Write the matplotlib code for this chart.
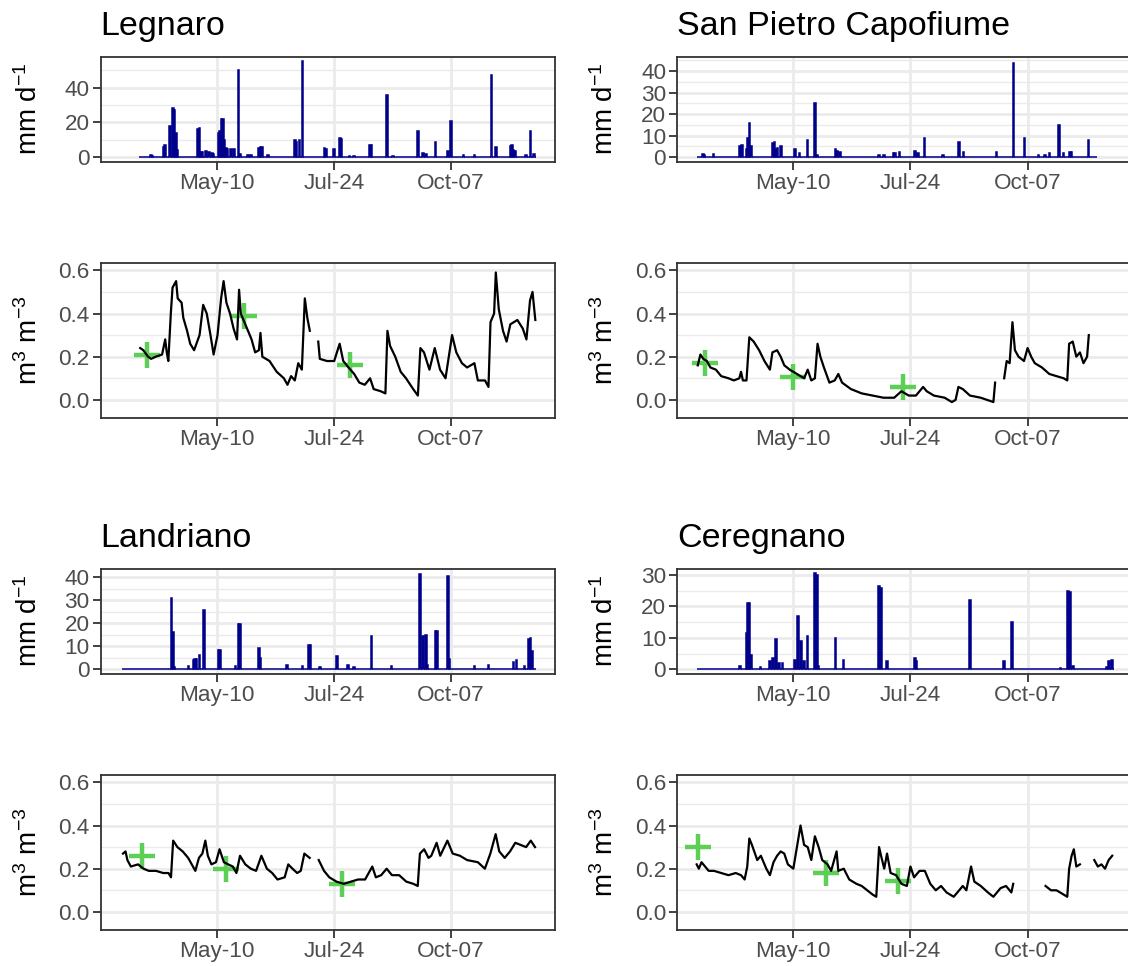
import numpy as np
import matplotlib.pyplot as plt
from matplotlib.ticker import AutoMinorLocator

plt.rcParams['font.family'] = ['Liberation Sans', 'DejaVu Sans']
plt.rcParams['mathtext.fontset'] = 'custom'
plt.rcParams['mathtext.rm'] = 'Liberation Sans'
plt.rcParams['mathtext.it'] = 'Liberation Sans:italic'
plt.rcParams['mathtext.bf'] = 'Liberation Sans:bold'

# all x values are day of year
TICK_DOY = [130, 205, 280]
TICK_LABELS = ["May-10", "Jul-24", "Oct-07"]
XLIM = (55.7, 346.6)

sites = ["Legnaro", "San Pietro Capofiume", "Landriano", "Ceregnano"]

# rain record (first and last day) and rainy days, mm d-1
rain_span = {
    "Legnaro": (81, 334),
    "San Pietro Capofiume": (69, 324),
    "Landriano": (70, 334),
    "Ceregnano": (69, 335),
}
rain_day = {
    "Legnaro": [88, 89, 96, 97, 100, 102, 103, 104, 105, 118, 119, 120, 121, 123, 125,
                127, 128, 131, 132, 133, 134, 135, 136, 137, 139, 141, 144, 145, 150, 152,
                157, 158, 159, 163, 180, 181, 183, 185, 199, 200, 205, 209, 210, 215, 218,
                228, 229, 239, 243, 259, 262, 264, 270, 278, 280, 288, 295, 306, 309, 318,
                319, 320, 321, 328, 331, 333],
    "San Pietro Capofiume": [72, 73, 79, 96, 97, 100, 101, 102, 103, 117, 118, 119, 120, 122,
                             131, 134, 139, 144, 145, 157, 158, 160, 185, 188, 194, 195, 198,
                             208, 210, 214, 226, 236, 239, 260, 271, 278, 287, 291, 294, 300,
                             303, 307, 308, 319],
    "Landriano": [101, 102, 103, 112, 115, 116, 117, 119, 122, 131, 132, 142, 144, 145, 157,
                  158, 175, 185, 189, 190, 196, 207, 214, 218, 229, 242, 260, 262, 264, 265,
                  270, 271, 278, 279, 295, 304, 320, 322, 327, 330, 331, 332],
    "Ceregnano": [96, 100, 101, 102, 103, 109, 115, 117, 119, 121, 123, 131, 133, 135, 137,
                  139, 144, 145, 146, 157, 162, 185, 186, 190, 208, 209, 243, 265, 270, 301,
                  306, 307, 309, 331, 332, 334],
}
rain_mm = {
    "Legnaro": [1, 0.8, 6, 6.8, 18, 28, 27, 14, 4, 16, 16.5, 3, 3, 3.5, 3,
                2.5, 2, 14, 15, 22, 22, 10, 5.5, 5, 5, 4.5, 50, 2, 1, 1,
                5.5, 6, 6, 1.5, 10, 9, 10, 55, 5.5, 5, 4.5, 11, 10.5, 0.5, 0.5,
                7, 7, 36, 0.5, 15, 2.5, 2, 8.5, 3.5, 21, 1.5, 1, 47, 6, 6.5,
                7, 4, 3.5, 1, 15, 2],
    "San Pietro Capofiume": [1.5, 1, 1.5, 5, 5.5, 4, 9, 16, 5, 6.5, 7, 4, 4.5, 5,
                             4, 2, 8, 25, 1, 4, 3, 2.5, 1, 1, 2, 2, 2.5,
                             3, 2, 9, 1, 7, 2.5, 2.5, 44, 9, 1, 1, 2, 15,
                             2, 2.5, 2.5, 8],
    "Landriano": [31, 16, 1, 1.5, 4, 4.5, 4.5, 6, 25.5, 8.5, 8.5, 1.5, 19.5, 19.5, 9,
                  5, 2, 1.5, 10.5, 10.5, 1, 5.5, 2, 1, 14.5, 1.5, 41.5, 14.5, 15, 2,
                  16.5, 16.5, 40.5, 4.5, 1.5, 2, 3, 4, 1.5, 13, 13.5, 8],
    "Ceregnano": [1, 11.5, 21, 21, 4.5, 0.8, 2.5, 3.5, 9.5, 2, 2, 3, 17, 9, 2.5,
                  10.5, 30.5, 30, 1, 10, 3, 26.5, 26, 2.5, 3.5, 2.5, 22, 2.5, 15, 0.5,
                  25, 24.5, 1, 0.8, 2.5, 3],
}

# soil water content, m3 m-3 (nan = gap in the record)
swc_day = {
    "Legnaro": [81, 83, 86, 88, 91, 95, 97, 98, 99, 100.6, 101.7, 104, 105, 107.5, 108.6,
                111, 113, 115.5, 119, 121.3, 123.6, 126, 128, 130.5, 132.8, 134.4, 136.2,
                138.5, 140.8, 143, 144.3, 145.4, 147.7, 150, 152.3, 154.6, 157, 158, 159.2,
                163.8, 168.4, 173, 175.3, 177.6, 180, 182.2, 184.5, 186.4, 188, 189.6, 192,
                195, 196, 200.6, 205.2, 208.7, 211, 214.4, 218, 221.3, 224.8, 228.2, 230.5,
                235, 238, 239.3, 241, 244.3, 247.8, 251.2, 255.8, 258.8, 260.4, 262.7, 266.2,
                269.6, 273, 276.5, 280.7, 283.4, 287, 290.3, 295, 297.2, 301.8, 304, 305.3,
                307.6, 308.7, 310.6, 313.3, 315.6, 318, 322.5, 326, 328.3, 330.6, 332.2, 334],
    "San Pietro Capofiume": [68.8, 70.5, 72.3, 74.6, 76.9, 80.4, 83.8, 88.5, 91.9, 95.4, 96.5,
                             97.7, 100, 101.8, 104.6, 108.1, 111.5, 115, 116.6, 119.6, 121.9,
                             124.2, 127.7, 132.3, 136.9, 139.2, 141.5, 143.8, 145.5, 147.3,
                             149.6, 153.1, 156.5, 158.8, 161.2, 166.9, 173.8, 180.8, 187.7,
                             194.6, 199.2, 203.9, 208.5, 213.1, 215.4, 220, 226.9, 231.5,
                             233.9, 235.7, 238.5, 243.1, 250, 258.1, 259.2, 262, 265, 266.6,
                             268.5, 270.3, 271.9, 274.2, 277.7, 280, 282.3, 284.6, 289.2,
                             293.9, 298.5, 303.1, 305.4, 306.6, 308.9, 311.2, 313.5, 315.8,
                             318.1, 319.2],
    "Landriano": [70, 71.6, 72.8, 75, 79.6, 83.1, 86.5, 91.1, 95.7, 99.1, 100.7, 102.1, 104.8,
                  108.2, 111.7, 114, 116.3, 118.6, 120.8, 122.7, 124.3, 126.6, 129.5, 131.8,
                  134.6, 137.3, 140.3, 142.6, 144.9, 148.3, 151.8, 155.2, 158.6, 162.1, 165.5,
                  168.9, 173.5, 175.8, 178.5, 181.5, 183.8, 186.1, 189.5, 192, 195.3, 198.7,
                  202.1, 206.7, 211.3, 215.9, 220.5, 225, 229.6, 231.9, 235.3, 238.8, 242.2,
                  246.8, 251.4, 255.9, 258.7, 260.1, 262.8, 265.6, 267.4, 270.8, 273.1, 277.7,
                  281.1, 285.7, 290.3, 297.2, 301.7, 305.2, 308.6, 310.9, 314.4, 317.8, 321.2,
                  324.6, 328.1, 331.1, 333.8],
    "Ceregnano": [68.1, 69.5, 71.2, 73.5, 75.8, 79.2, 83.8, 88.5, 93.1, 96.5, 98.8, 100.5,
                  101.8, 103.5, 106.9, 109.2, 112.7, 115, 117.3, 119.6, 121.9, 124.2, 126.5,
                  130, 132.3, 134.6, 136.9, 139.2, 141.5, 143.8, 146.2, 148.5, 151.9, 154.2,
                  157.7, 158.8, 162.3, 165.8, 170.4, 173.8, 177.3, 180.8, 183.1, 184.9, 186.5,
                  188.2, 190, 192.3, 195.8, 199.2, 202.7, 205, 207.3, 210.8, 214.2, 217.7,
                  221.2, 224.6, 228.1, 232.7, 236.2, 238.5, 240.8, 243.8, 245.9, 250, 254.6,
                  258.1, 262.7, 266.2, 269.6, 270.8, 280, 291.5, 295, 298.5, 303.1, 305.4,
                  306.6, 308.2, 309.6, 311.2, 313.5, 318, 322.7, 325, 327.3, 329.6, 331.9,
                  334.2],
}
nan = np.nan
swc_val = {
    "Legnaro": [0.24, 0.23, 0.20, 0.19, 0.20, 0.21, 0.28, 0.22, 0.18, 0.40, 0.52, 0.55, 0.47,
                0.45, 0.38, 0.32, 0.26, 0.23, 0.30, 0.44, 0.40, 0.30, 0.21, 0.30, 0.47, 0.55,
                0.45, 0.40, 0.33, 0.28, 0.51, 0.40, 0.36, 0.32, 0.28, 0.22, 0.23, 0.31, 0.20,
                0.18, 0.13, 0.10, 0.07, 0.11, 0.09, 0.17, 0.14, 0.47, 0.38, 0.32, nan,
                0.27, 0.19, 0.18, 0.18, 0.26, 0.18, 0.15, 0.12, 0.08, 0.07, 0.10, 0.05,
                0.04, 0.03, 0.32, 0.25, 0.20, 0.13, 0.10, 0.05, 0.02, 0.24, 0.22, 0.14,
                0.24, 0.14, 0.10, 0.30, 0.22, 0.17, 0.15, 0.17, 0.09, 0.09, 0.06, 0.36,
                0.40, 0.59, 0.42, 0.32, 0.27, 0.35, 0.37, 0.33, 0.28, 0.46, 0.50, 0.37],
    "San Pietro Capofiume": [0.16, 0.21, 0.19, 0.18, 0.15, 0.14, 0.11, 0.10, 0.09, 0.10, 0.13,
                             0.09, 0.09, 0.29, 0.27, 0.23, 0.18, 0.14, 0.22, 0.23, 0.20,
                             0.16, 0.14, 0.12, 0.10, 0.14, 0.09, 0.10, 0.26, 0.20,
                             0.15, 0.08, 0.09, 0.12, 0.08, 0.05, 0.03, 0.02, 0.01,
                             0.01, 0.04, 0.02, 0.02, 0.06, 0.04, 0.02, 0.01, -0.01,
                             0.00, 0.06, 0.05, 0.02, 0.01, -0.01, 0.08, nan, 0.10, 0.18,
                             0.17, 0.36, 0.23, 0.20, 0.18, 0.24, 0.20, 0.17, 0.15,
                             0.12, 0.11, 0.10, 0.09, 0.26, 0.27, 0.20, 0.22, 0.17,
                             0.20, 0.30],
    "Landriano": [0.27, 0.28, 0.24, 0.21, 0.22, 0.20, 0.19, 0.19, 0.18, 0.18, 0.16, 0.33, 0.30,
                  0.28, 0.25, 0.22, 0.19, 0.25, 0.27, 0.33, 0.26, 0.22, 0.23, 0.29,
                  0.23, 0.22, 0.21, 0.18, 0.26, 0.22, 0.20, 0.19, 0.26, 0.20, 0.18,
                  0.15, 0.16, 0.22, 0.20, 0.18, 0.19, 0.27, 0.25, nan, 0.24, 0.19,
                  0.16, 0.14, 0.13, 0.14, 0.15, 0.15, 0.21, 0.16, 0.17, 0.20, 0.17,
                  0.17, 0.14, 0.13, 0.12, 0.27, 0.29, 0.25, 0.26, 0.32, 0.26, 0.33,
                  0.27, 0.26, 0.24, 0.23, 0.20, 0.27, 0.36, 0.28, 0.25, 0.28, 0.32,
                  0.31, 0.30, 0.33, 0.30],
    "Ceregnano": [0.22, 0.20, 0.23, 0.21, 0.19, 0.19, 0.18, 0.17, 0.18, 0.17, 0.15, 0.21,
                  0.34, 0.31, 0.24, 0.26, 0.20, 0.17, 0.23, 0.26, 0.28, 0.27, 0.22,
                  0.20, 0.30, 0.40, 0.31, 0.30, 0.24, 0.35, 0.30, 0.24, 0.22, 0.19,
                  0.28, 0.19, 0.20, 0.15, 0.13, 0.12, 0.10, 0.08, 0.07, 0.30, 0.25,
                  0.20, 0.27, 0.18, 0.17, 0.13, 0.12, 0.21, 0.16, 0.19, 0.19, 0.13,
                  0.10, 0.12, 0.09, 0.07, 0.10, 0.12, 0.10, 0.21, 0.14, 0.12, 0.09,
                  0.07, 0.11, 0.12, 0.09, 0.13, nan, 0.12, 0.10, 0.10, 0.08, 0.07,
                  0.20, 0.26, 0.29, 0.21, 0.22, nan, 0.24, 0.21, 0.22, 0.20, 0.24,
                  0.26],
}

# field measurements (green crosses)
obs_day = {
    "Legnaro": [85.6, 147.7, 215.6],
    "San Pietro Capofiume": [73.5, 130, 200.4],
    "Landriano": [81.9, 135.7, 210.1],
    "Ceregnano": [68.8, 150.8, 197],
}
obs_val = {
    "Legnaro": [0.21, 0.39, 0.16],
    "San Pietro Capofiume": [0.17, 0.105, 0.06],
    "Landriano": [0.26, 0.20, 0.13],
    "Ceregnano": [0.30, 0.18, 0.145],
}

rain_ylim = {
    "Legnaro": (-2.75, 57.75),
    "San Pietro Capofiume": (-2.2, 46.7),
    "Landriano": (-2.1, 43.6),
    "Ceregnano": (-1.5, 32.0),
}
rain_ticks = {
    "Legnaro": [0, 20, 40],
    "San Pietro Capofiume": [0, 10, 20, 30, 40],
    "Landriano": [0, 10, 20, 30, 40],
    "Ceregnano": [0, 10, 20, 30],
}

W, H = 1128, 966
fig = plt.figure(figsize=(W / 100, H / 100), dpi=100)

col_left = [100.7, 677.3]
panel_w = 454.3
block_dy = [0, 512]


def style(ax):
    for s in ax.spines.values():
        s.set_color('#333333')
        s.set_linewidth(1.3)
    ax.yaxis.set_minor_locator(AutoMinorLocator(2))
    ax.grid(which='major', color='#EBEBEB', linewidth=2.0)
    ax.grid(which='minor', axis='y', color='#EBEBEB', linewidth=1.0)
    ax.set_axisbelow(True)
    ax.tick_params(which='major', length=6, width=1.3, color='#333333',
                   labelsize=16.2, labelcolor='#4D4D4D', pad=2)
    ax.tick_params(which='minor', length=0)
    ax.set_xlim(*XLIM)
    ax.set_xticks(TICK_DOY)
    ax.set_xticklabels(TICK_LABELS)


def rect(x0, top, bottom):
    return [x0 / W, (H - bottom) / H, panel_w / W, (bottom - top) / H]


for i, site in enumerate(sites):
    x0 = col_left[i % 2]
    dy = block_dy[i // 2]

    # precipitation
    ax1 = fig.add_axes(rect(x0, 56.7 + dy, 162 + dy))
    style(ax1)
    start, end = rain_span[site]
    days = np.arange(start, end + 1)
    mm = np.zeros(len(days))
    for d, v in zip(rain_day[site], rain_mm[site]):
        mm[d - start] = v
    ax1.bar(days, mm, width=1.0, color='#00008B', edgecolor='#00008B', linewidth=1.1, zorder=3)
    ax1.set_ylim(*rain_ylim[site])
    ax1.set_yticks(rain_ticks[site])

    # soil water content
    ax2 = fig.add_axes(rect(x0, 263.3 + dy, 417.7 + dy))
    style(ax2)
    ax2.plot(obs_day[site], obs_val[site], ls='none', marker='+', ms=19, mew=3.2,
             color='#5DCF55', zorder=3)
    ax2.plot(swc_day[site], swc_val[site], color='black', lw=1.6, zorder=4)
    ax2.set_ylim(-0.0825, 0.6325)
    ax2.set_yticks([0.0, 0.2, 0.4, 0.6])
    ax2.set_yticklabels(["0.0", "0.2", "0.4", "0.6"])

    # title and axis titles
    fig.text(x0 / W, 1 - (35 + dy) / H, site, fontsize=24.5, va='baseline', ha='left')
    fig.text((x0 - 72) / W, 1 - (109 + dy) / H, r'mm d$^{-1}$', fontsize=20,
             rotation=90, ha='center', va='center')
    fig.text((x0 - 72) / W, 1 - (340 + dy) / H, r'm$^{3}$ m$^{-3}$', fontsize=20,
             rotation=90, ha='center', va='center')

fig.savefig('out.png', dpi=100, facecolor='white')
